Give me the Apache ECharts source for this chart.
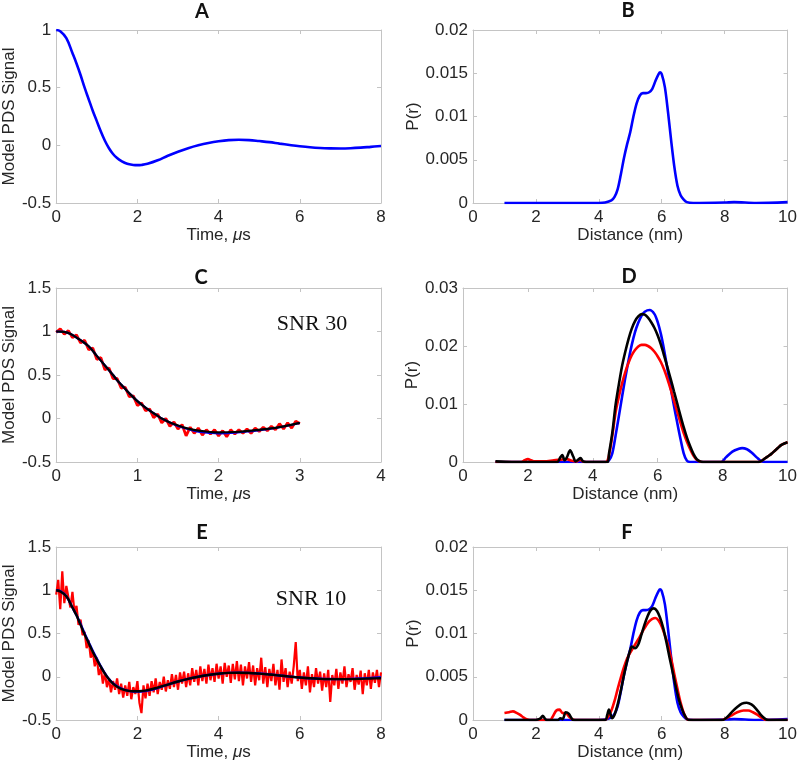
<!DOCTYPE html>
<html><head><meta charset="utf-8">
<script src="https://cdn.jsdelivr.net/npm/echarts@6/dist/echarts.min.js"></script>
<style>html,body{margin:0;padding:0;background:#fff}#c{width:800px;height:768px}</style>
</head><body><div id="c"></div>
<script>
// ---------- DATA ----------
// Panel A / E: model PDS signal vs time (us)
const A_t = [0,0.1,0.25,0.4,0.5,0.6,0.7,0.8,0.9,1.0,1.1,1.2,1.3,1.4,1.5,1.6,1.75,1.9,2.0,2.1,2.25,2.5,2.75,3.0,3.25,3.5,3.75,4.0,4.25,4.5,4.75,5.0,5.25,5.5,5.75,6.0,6.25,6.5,6.75,7.0,7.25,7.5,7.75,8.0];
const A_signal = [1.0,0.99,0.93,0.8,0.71,0.61,0.5,0.4,0.3,0.21,0.12,0.04,-0.025,-0.075,-0.11,-0.135,-0.16,-0.17,-0.172,-0.17,-0.16,-0.13,-0.09,-0.055,-0.025,0.0,0.02,0.035,0.045,0.048,0.045,0.037,0.028,0.015,0.003,-0.008,-0.017,-0.023,-0.026,-0.027,-0.025,-0.02,-0.013,-0.006];
const E_fit = [1.0,0.985,0.93,0.8,0.71,0.6,0.49,0.39,0.29,0.2,0.115,0.035,-0.03,-0.08,-0.115,-0.14,-0.16,-0.168,-0.168,-0.165,-0.155,-0.125,-0.09,-0.055,-0.025,0.0,0.02,0.035,0.045,0.047,0.044,0.036,0.026,0.014,0.002,-0.009,-0.018,-0.024,-0.027,-0.028,-0.027,-0.024,-0.02,-0.017];
const E_noisy = [0.95,1.12,0.78,1.22,0.85,1.05,0.92,0.80,0.98,0.75,0.82,0.60,0.66,0.48,0.52,0.33,0.42,0.22,0.30,0.12,0.22,0.02,0.10,-0.08,0.05,-0.12,-0.02,-0.18,-0.05,-0.15,-0.02,-0.20,-0.08,-0.24,-0.10,-0.22,-0.06,-0.26,-0.12,-0.20,-0.05,-0.30,-0.42,-0.10,-0.25,-0.08,-0.22,-0.05,-0.18,-0.02,-0.20,-0.06,-0.15,0.00,-0.17,-0.04,-0.14,0.03,-0.12,0.02,-0.15,0.05,-0.08,0.06,-0.12,0.04,-0.10,0.10,-0.06,0.08,-0.10,0.12,-0.05,0.09,-0.08,0.14,-0.04,0.10,-0.06,0.15,-0.02,0.12,-0.08,0.16,0.00,0.13,-0.07,0.15,-0.03,0.18,-0.05,0.14,-0.10,0.12,-0.02,0.17,-0.06,0.13,-0.10,0.10,-0.04,0.22,-0.08,0.11,-0.12,0.09,-0.05,0.15,-0.10,0.08,-0.15,0.20,-0.06,0.10,-0.12,0.06,-0.08,0.12,0.40,-0.05,0.08,-0.14,0.05,-0.10,0.12,-0.18,0.03,-0.12,0.10,-0.08,0.06,-0.16,0.04,-0.12,0.08,-0.29,0.02,-0.10,0.09,-0.14,0.05,-0.08,0.12,-0.12,0.03,-0.06,0.10,-0.15,0.02,-0.09,0.07,-0.20,0.04,-0.10,0.08,-0.14,0.05,-0.07,0.08,-0.12,0.05];
const E_noisy_dt = 0.05;
// Panel C: signal to 3 us
const C_t = [0,0.1,0.2,0.25,0.3,0.4,0.5,0.6,0.7,0.75,0.8,0.9,1.0,1.1,1.2,1.25,1.3,1.4,1.5,1.6,1.75,1.9,2.0,2.2,2.4,2.6,2.8,3.0];
const C_fit = [1.0,0.995,0.96,0.93,0.9,0.83,0.72,0.61,0.5,0.44,0.39,0.29,0.2,0.125,0.06,0.03,0.0,-0.045,-0.08,-0.11,-0.14,-0.155,-0.16,-0.155,-0.14,-0.12,-0.09,-0.05];
const C_true = [1.0,0.995,0.96,0.93,0.9,0.83,0.72,0.61,0.5,0.44,0.39,0.29,0.2,0.125,0.06,0.03,0.0,-0.045,-0.085,-0.115,-0.15,-0.165,-0.17,-0.163,-0.145,-0.123,-0.092,-0.052];
const C_noisy = [0.99,1.03,0.97,1.01,0.93,0.96,0.87,0.9,0.79,0.81,0.68,0.7,0.56,0.58,0.46,0.46,0.35,0.36,0.25,0.26,0.15,0.18,0.09,0.11,0.01,0.05,-0.05,0.0,-0.09,-0.04,-0.12,-0.07,-0.2,-0.1,-0.17,-0.11,-0.19,-0.13,-0.18,-0.13,-0.2,-0.14,-0.21,-0.13,-0.18,-0.13,-0.17,-0.12,-0.17,-0.11,-0.15,-0.1,-0.14,-0.09,-0.13,-0.06,-0.12,-0.05,-0.11,-0.03,-0.06];
const C_noisy_dt = 0.05;
// Panel B / F: distance distributions [r (nm), P(r)]
const B_true = [[1,0],[2,0],[3,0],[4,0],[4.2,0.00005],[4.4,0.0003],[4.5,0.0007],[4.6,0.0016],[4.7,0.0033],[4.8,0.0052],[4.9,0.0068],[5.0,0.0082],[5.1,0.0100],[5.2,0.0115],[5.3,0.0124],[5.4,0.0127],[5.5,0.0127],[5.6,0.0128],[5.7,0.0132],[5.8,0.0141],[5.9,0.0149],[5.95,0.0151],[6.0,0.0149],[6.1,0.0134],[6.2,0.0105],[6.3,0.0072],[6.4,0.0042],[6.5,0.0020],[6.6,0.0009],[6.7,0.0004],[6.8,0.0001],[7,0],[8,0.00005],[8.3,0.0001],[9,0],[10,0.0001]];
const D_blue = [[1,0],[4.4,0],[4.5,0.0003],[4.6,0.0015],[4.7,0.0045],[4.8,0.0078],[4.9,0.0112],[5.0,0.0145],[5.1,0.0175],[5.2,0.0202],[5.3,0.0224],[5.4,0.0240],[5.5,0.0252],[5.6,0.0259],[5.75,0.0262],[5.9,0.0255],[6.0,0.0241],[6.1,0.0220],[6.2,0.0192],[6.3,0.0160],[6.4,0.0128],[6.5,0.0097],[6.6,0.0068],[6.7,0.0040],[6.8,0.0015],[6.9,0.0002],[7.0,0],[7.95,0],[8.1,0.0008],[8.3,0.0018],[8.5,0.0023],[8.6,0.0024],[8.75,0.0022],[8.9,0.0016],[9.05,0.0008],[9.2,0.0001],[9.3,0],[10,0]];
const D_red = [[1.0,0],[1.8,0],[1.9,0.0003],[2.0,0.0005],[2.1,0.0003],[2.2,0.0001],[2.5,0.0001],[2.8,0.0003],[3.0,0.0004],[3.2,0.0005],[3.35,0.0002],[3.5,0.0001],[3.6,0.0004],[3.7,0.0001],[3.8,0],[4.4,0],[4.5,0.0012],[4.6,0.0045],[4.7,0.0085],[4.8,0.0112],[4.9,0.0135],[5.0,0.0155],[5.1,0.0171],[5.2,0.0184],[5.3,0.0193],[5.4,0.0199],[5.5,0.0202],[5.6,0.0202],[5.7,0.0200],[5.8,0.0196],[5.9,0.0190],[6.0,0.0182],[6.1,0.0172],[6.2,0.0159],[6.3,0.0143],[6.4,0.0125],[6.5,0.0106],[6.6,0.0087],[6.7,0.0068],[6.8,0.0050],[6.9,0.0035],[7.0,0.0022],[7.1,0.0011],[7.2,0.0004],[7.3,0.0001],[7.4,0],[9.1,0],[9.2,0.0002],[9.3,0.0006],[9.4,0.0010],[9.5,0.0014],[9.6,0.0019],[9.7,0.0024],[9.8,0.0029],[9.9,0.0032],[10,0.0034]];
const D_black = [[1.0,0.0001],[1.5,0],[2.9,0],[3.0,0.0008],[3.06,0.0012],[3.13,0.0003],[3.2,0.0008],[3.3,0.0020],[3.4,0.0009],[3.47,0.0001],[3.55,0.0004],[3.62,0.0007],[3.7,0.0001],[3.8,0],[4.45,0],[4.5,0.0015],[4.6,0.0050],[4.7,0.0098],[4.8,0.0133],[4.9,0.0165],[5.0,0.0190],[5.1,0.0212],[5.2,0.0230],[5.3,0.0243],[5.4,0.0251],[5.5,0.0255],[5.6,0.0254],[5.7,0.0249],[5.8,0.0241],[5.9,0.0231],[6.0,0.0218],[6.1,0.0202],[6.2,0.0183],[6.3,0.0163],[6.4,0.0143],[6.5,0.0122],[6.6,0.0101],[6.7,0.0080],[6.8,0.0060],[6.9,0.0042],[7.0,0.0027],[7.1,0.0014],[7.2,0.0005],[7.3,0.0001],[7.4,0],[9.1,0],[9.2,0.0002],[9.3,0.0006],[9.4,0.0010],[9.5,0.0014],[9.6,0.0019],[9.7,0.0024],[9.8,0.0029],[9.9,0.0032],[10,0.0034]];
const F_red = [[1.0,0.0008],[1.15,0.0009],[1.27,0.0010],[1.4,0.0008],[1.5,0.0006],[1.6,0.0003],[1.7,0.0001],[1.8,0],[2.45,0],[2.55,0.0005],[2.65,0.0011],[2.75,0.0012],[2.85,0.0008],[2.95,0.0008],[3.05,0.0004],[3.15,0.0001],[3.25,0],[4.2,0],[4.3,0.0004],[4.4,0.0011],[4.5,0.0022],[4.6,0.0036],[4.7,0.0049],[4.8,0.0061],[4.9,0.0071],[5.0,0.0078],[5.1,0.0084],[5.2,0.0090],[5.3,0.0096],[5.4,0.0103],[5.5,0.0109],[5.6,0.0114],[5.7,0.0117],[5.8,0.0118],[5.9,0.0115],[6.0,0.0108],[6.1,0.0098],[6.2,0.0087],[6.3,0.0071],[6.4,0.0053],[6.5,0.0036],[6.6,0.0020],[6.7,0.0008],[6.8,0.0001],[6.9,0],[7.9,0],[8.05,0.0002],[8.2,0.0005],[8.4,0.0009],[8.6,0.0011],[8.75,0.0011],[8.9,0.0009],[9.05,0.0006],[9.2,0.0002],[9.3,0],[10,0]];
const F_black = [[1,0],[2.0,0],[2.1,0.0001],[2.15,0.0002],[2.22,0.0005],[2.3,0.0001],[2.35,0],[2.7,0],[2.78,0.0002],[2.85,0.0001],[2.95,0.0009],[3.05,0.0007],[3.15,0.0001],[3.2,0],[4.2,0],[4.27,0.0006],[4.32,0.0012],[4.38,0.0006],[4.42,0.0002],[4.5,0.0006],[4.6,0.0018],[4.7,0.0034],[4.8,0.0052],[4.9,0.0068],[5.0,0.0081],[5.05,0.0085],[5.15,0.0083],[5.25,0.0087],[5.35,0.0098],[5.45,0.0110],[5.55,0.0120],[5.65,0.0127],[5.75,0.0129],[5.85,0.0126],[5.95,0.0118],[6.05,0.0106],[6.15,0.0090],[6.25,0.0072],[6.35,0.0055],[6.45,0.0038],[6.55,0.0023],[6.65,0.0012],[6.75,0.0004],[6.85,0],[7.95,0],[8.1,0.0004],[8.25,0.0010],[8.4,0.0015],[8.55,0.0019],[8.7,0.0020],[8.85,0.0018],[9.0,0.0013],[9.15,0.0006],[9.3,0.0001],[9.4,0],[10,0]];
// Panel labels / axis titles
const panelLetters = ['A','B','C','D','E','F'];
const timeName = 'Time, ';
const distName = 'Distance (nm)';
const sigName = 'Model PDS Signal';
const prName = 'P(r)';
const snrLabels = ['SNR 30','SNR 10'];

// ---------- BUILD ----------
const zip = (t, v) => v.map((y, i) => [t[i], y]);
const seq = (v, dt) => v.map((y, i) => [+(i * dt).toFixed(3), y]);

const grids = [
  {left: 50, top: 30, width: 331, height: 173},
  {left: 473, top: 30, width: 318, height: 173},
  {left: 50, top: 288, width: 331, height: 174},
  {left: 463, top: 288, width: 327, height: 174},
  {left: 50, top: 547, width: 331, height: 173},
  {left: 473, top: 547, width: 317, height: 173}
];
const FRAME = '#c4c4c4';
const LBL = '#262626';
const FONT = '"Liberation Sans", Arial, sans-serif';
const fmt = v => String(+v.toFixed(4));

const xSpec = [
  {min:0,max:8,interval:2,time:true},
  {min:0,max:10,interval:2,time:false},
  {min:0,max:4,interval:1,time:true},
  {min:0,max:10,interval:2,time:false},
  {min:0,max:8,interval:2,time:true},
  {min:0,max:10,interval:2,time:false}
];
const ySpec = [
  {min:-0.5,max:1,interval:0.5,name:sigName,gap:31},
  {min:0,max:0.02,interval:0.005,name:prName,gap:50},
  {min:-0.5,max:1.5,interval:0.5,name:sigName,gap:31},
  {min:0,max:0.03,interval:0.01,name:prName,gap:40},
  {min:-0.5,max:1.5,interval:0.5,name:sigName,gap:31},
  {min:0,max:0.02,interval:0.005,name:prName,gap:50}
];

const xAxes = [], yAxes = [];
grids.forEach((g, i) => {
  const xs = xSpec[i], ys = ySpec[i];
  xAxes.push({
    type:'value', gridIndex:i, min:xs.min, max:xs.max, interval:xs.interval, position:'bottom',
    name: xs.time ? '{n|' + timeName + '}{i|μ}{n|s}' : distName,
    nameLocation:'middle', nameGap:24,
    nameTextStyle:{color:LBL, fontSize:17, fontFamily:FONT,
      rich:{n:{fontSize:17,fontFamily:FONT,color:LBL}, i:{fontSize:17,fontFamily:FONT,fontStyle:'italic',color:LBL}}},
    axisLine:{onZero:false, lineStyle:{color:FRAME,width:1}},
    axisTick:{inside:true,length:4,lineStyle:{color:FRAME}},
    axisLabel:{color:LBL,fontSize:17,fontFamily:FONT,margin:6,formatter:fmt},
    splitLine:{show:false}
  });
  xAxes.push({
    type:'value', gridIndex:i, min:xs.min, max:xs.max, interval:xs.interval, position:'top',
    axisLine:{onZero:false, lineStyle:{color:FRAME,width:1}},
    axisTick:{inside:true,length:4,lineStyle:{color:FRAME}},
    axisLabel:{show:false}, splitLine:{show:false}
  });
  yAxes.push({
    type:'value', gridIndex:i, min:ys.min, max:ys.max, interval:ys.interval, position:'left',
    name: ys.name, nameLocation:'middle', nameGap:ys.gap, nameRotate:90,
    nameTextStyle:{color:LBL,fontSize:17,fontFamily:FONT},
    axisLine:{show:true,onZero:false, lineStyle:{color:FRAME,width:1}},
    axisTick:{show:true,inside:true,length:4,lineStyle:{color:FRAME}},
    axisLabel:{color:LBL,fontSize:17,fontFamily:FONT,margin:5,formatter:fmt},
    splitLine:{show:false}
  });
  yAxes.push({
    type:'value', gridIndex:i, min:ys.min, max:ys.max, interval:ys.interval, position:'right',
    axisLine:{show:true,onZero:false, lineStyle:{color:FRAME,width:1}},
    axisTick:{show:true,inside:true,length:4,lineStyle:{color:FRAME}},
    axisLabel:{show:false}, splitLine:{show:false}
  });
});

function line(panel, data, color, width, smooth) {
  return {type:'line', xAxisIndex:panel*2, yAxisIndex:panel*2, data:data, showSymbol:false, symbol:'none',
    smooth:smooth, lineStyle:{color:color,width:width}, animation:false, silent:true};
}
const BLUE='#0000ff', RED='#ff0000', BLACK='#000000';
const series = [
  line(0, zip(A_t, A_signal), BLUE, 2.6, 0.4),
  line(1, B_true, BLUE, 2.6, 0.3),
  line(2, seq(C_noisy, C_noisy_dt), RED, 2.8, false),
  line(2, zip(C_t, C_true), BLUE, 2.2, 0.4),
  line(2, zip(C_t, C_fit), BLACK, 2.2, 0.4),
  line(3, D_blue, BLUE, 2.6, 0.3),
  line(3, D_red, RED, 2.6, 0.3),
  line(3, D_black, BLACK, 2.6, 0.3),
  line(4, seq(E_noisy, E_noisy_dt), RED, 2.2, false),
  line(4, zip(A_t, A_signal), BLUE, 2.4, 0.4),
  line(4, zip(A_t, E_fit), BLACK, 2.4, 0.4),
  line(5, B_true, BLUE, 2.6, 0.3),
  line(5, F_red, RED, 2.6, 0.3),
  line(5, F_black, BLACK, 2.6, 0.3)
];

const titlePos = [[202,12],[628,11],[201,278],[629,277],[202,533],[627,533]];
const graphic = panelLetters.map((L, i) => ({
  type:'text', x:titlePos[i][0], y:titlePos[i][1],
  style:{text:L, font:'bold 20px Lato, "Open Sans", sans-serif', fill:'#111', textAlign:'center', textVerticalAlign:'middle'}
}));
graphic.push({type:'text', x:312, y:324, style:{text:snrLabels[0], font:'22px "Liberation Serif", "Times New Roman", serif', fill:'#111', textAlign:'center', textVerticalAlign:'middle'}});
graphic.push({type:'text', x:311, y:599, style:{text:snrLabels[1], font:'22px "Liberation Serif", "Times New Roman", serif', fill:'#111', textAlign:'center', textVerticalAlign:'middle'}});

const chart = echarts.init(document.getElementById('c'), null, {renderer:'canvas'});
chart.setOption({
  animation:false,
  backgroundColor:'#ffffff',
  grid: grids.map(g => Object.assign({containLabel:false, show:false}, g)),
  xAxis: xAxes, yAxis: yAxes, series: series, graphic: graphic
});
</script></body></html>
